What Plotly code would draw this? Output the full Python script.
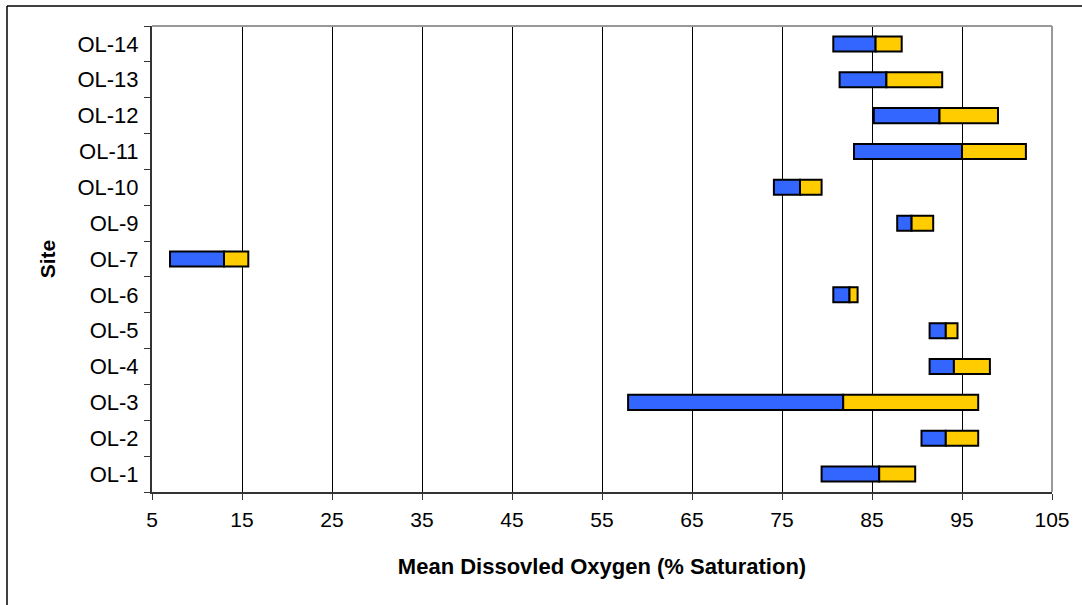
import plotly.graph_objects as go

sites = ["OL-1", "OL-2", "OL-3", "OL-4", "OL-5", "OL-6", "OL-7",
         "OL-9", "OL-10", "OL-11", "OL-12", "OL-13", "OL-14"]
do_min = [79.4, 90.5, 57.9, 91.4, 91.4, 80.7, 7.0, 87.8, 74.1, 83.0, 85.2, 81.4, 80.7]
do_mean = [85.8, 93.2, 81.8, 94.1, 93.2, 82.5, 13.0, 89.4, 77.0, 95.0, 92.5, 86.6, 85.4]
do_max = [89.8, 96.8, 96.8, 98.1, 94.5, 83.4, 15.7, 91.8, 79.4, 102.1, 99.0, 92.8, 88.3]
x_ticks = [5, 15, 25, 35, 45, 55, 65, 75, 85, 95, 105]

FONT = "Liberation Sans, Arial, sans-serif"

fig = go.Figure()
fig.add_trace(go.Bar(
    y=sites, x=[m - lo for lo, m in zip(do_min, do_mean)], base=do_min,
    orientation="h", width=0.42,
    marker=dict(color="#3366FF", line=dict(color="black", width=2)),
    showlegend=False, hoverinfo="skip"))
fig.add_trace(go.Bar(
    y=sites, x=[hi - m for m, hi in zip(do_mean, do_max)], base=do_mean,
    orientation="h", width=0.42,
    marker=dict(color="#FFCC00", line=dict(color="black", width=2)),
    showlegend=False, hoverinfo="skip"))

W, H = 1082, 605
L, R, T, B = 152, 30, 26, 113
pw, ph = W - L - R, H - T - B

def px_to_paper(px, py):
    return (px - L) / pw, (H - B - py) / ph

# outer chart border (top and left visible)
x0, y0 = px_to_paper(7, 6)
x1, _ = px_to_paper(1100, 6)
_, yb = px_to_paper(7, 620)

fig.update_layout(
    width=W, height=H,
    margin=dict(l=L, r=R, t=T, b=B),
    barmode="overlay",
    paper_bgcolor="white", plot_bgcolor="white",
    font=dict(family=FONT, size=20, color="black"),
    xaxis=dict(
        range=[5, 105], tickvals=x_ticks, ticktext=[str(v) for v in x_ticks],
        showgrid=True, gridcolor="black", gridwidth=1,
        showline=True, linecolor="#333333", linewidth=2,
        ticks="outside", ticklen=6, tickcolor="#333333", tickwidth=1,
        zeroline=False, ticklabelstandoff=2,
        title=dict(text="<b>Mean Dissovled Oxygen (% Saturation)</b>",
                   font=dict(size=22), standoff=28),
        tickfont=dict(size=21),
    ),
    yaxis=dict(
        type="category", categoryorder="array", categoryarray=sites,
        range=[-0.5, len(sites) - 0.5],
        showgrid=False, showline=True, linecolor="#333333", linewidth=2,
        ticks="outside", ticklen=6, tickcolor="#333333", tickwidth=1,
        tickson="boundaries", ticklabelstandoff=7,
        title=dict(text="<b>Site</b>", font=dict(size=21), standoff=16),
        tickfont=dict(size=22),
    ),
    shapes=[
        dict(type="line", xref="paper", yref="paper", x0=0, x1=1, y0=1, y1=1,
             line=dict(color="#999999", width=2)),
        dict(type="line", xref="paper", yref="paper", x0=1, x1=1, y0=0, y1=1,
             line=dict(color="#999999", width=2)),
        dict(type="line", xref="paper", yref="paper", x0=x0, x1=x1, y0=y0, y1=y0,
             line=dict(color="black", width=1.5)),
        dict(type="line", xref="paper", yref="paper", x0=x0, x1=x0, y0=yb, y1=y0,
             line=dict(color="black", width=1.5)),
    ],
)

fig.write_html("out.html")
